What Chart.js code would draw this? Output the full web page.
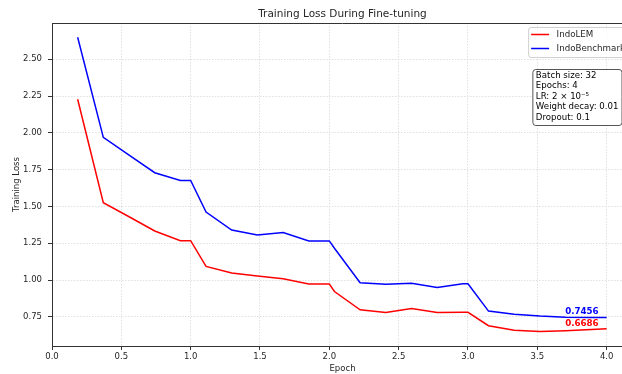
<!DOCTYPE html>
<html>
<head>
<meta charset="utf-8">
<script src="https://cdn.jsdelivr.net/npm/chart.js@4"></script>
<style>
  html, body { margin: 0; padding: 0; overflow: hidden; background: #fff; width: 622px; height: 374px; }
  canvas { display: block; }
</style>
</head>
<body>
<canvas id="lossChart" width="660" height="374"></canvas>
<script>
// logged training steps, expressed in epochs
const epochs = [0.185, 0.370, 0.556, 0.741, 0.926, 1.0, 1.111, 1.296, 1.481, 1.667, 1.852, 2.0, 2.037,
  2.222, 2.407, 2.593, 2.778, 2.963, 3.0, 3.148, 3.333, 3.519, 3.704, 3.889, 4.0];
const indoLemLoss = [2.228, 1.525, 1.43, 1.333, 1.267, 1.267, 1.093, 1.048, 1.027, 1.009, 0.973, 0.973, 0.922,
  0.798, 0.779, 0.806, 0.779, 0.781, 0.781, 0.690, 0.659, 0.650, 0.656, 0.664, 0.6686];
const indoBenchLoss = [2.649, 1.969, 1.848, 1.729, 1.677, 1.677, 1.462, 1.340, 1.306, 1.323, 1.266, 1.266, 1.216,
  0.982, 0.972, 0.978, 0.950, 0.975, 0.975, 0.789, 0.768, 0.756, 0.748, 0.745, 0.7456];
const seriesNames = ["IndoLEM", "IndoBenchmark"];
const seriesColors = ["red", "blue"];
const xTicks = [0.0, 0.5, 1.0, 1.5, 2.0, 2.5, 3.0, 3.5, 4.0];
const yTicks = [0.75, 1.0, 1.25, 1.5, 1.75, 2.0, 2.25, 2.5];
const hyperParams = ["Batch size: 32", "Epochs: 4", "LR: 2 × 10⁻⁵", "Weight decay: 0.01", "Dropout: 0.1"];

const FONT = "'DejaVu Sans', sans-serif";
const TEXT = "#262626";

const toPoints = (ys) => epochs.map((e, i) => ({ x: e, y: ys[i] }));

// top spine, legend, hyper-parameter box and final-value labels
const overlay = {
  id: "overlay",
  afterDatasetsDraw(chart) {
    const { ctx, scales: { x, y } } = chart;
    ctx.save();
    ctx.font = "bold 8.7px " + FONT;
    ctx.textAlign = "right";
    ctx.textBaseline = "alphabetic";
    chart.data.datasets.forEach((ds) => {
      const last = ds.data[ds.data.length - 1];
      ctx.fillStyle = ds.borderColor;
      ctx.fillText(last.y.toFixed(4), x.getPixelForValue(last.x) - 8, y.getPixelForValue(last.y) - 3);
    });
    ctx.restore();
  },
  afterDraw(chart) {
    const { ctx, chartArea: a } = chart;
    ctx.save();
    // top spine
    ctx.strokeStyle = "#333";
    ctx.lineWidth = 1;
    ctx.beginPath();
    ctx.moveTo(a.left, a.top + 0.5);
    ctx.lineTo(a.right, a.top + 0.5);
    ctx.stroke();

    // legend
    ctx.font = "8.7px " + FONT;
    const maxW = Math.max(...seriesNames.map((n) => ctx.measureText(n).width));
    const lw = 3 + 18 + 7.5 + maxW + 4;
    const lx = a.right - 4 - lw;
    const ly = a.top + 4;
    ctx.fillStyle = "rgba(255,255,255,0.8)";
    ctx.strokeStyle = "#d0d0d0";
    ctx.beginPath();
    ctx.roundRect(lx + 0.5, ly + 0.5, lw, 30, 2.5);
    ctx.fill();
    ctx.stroke();
    chart.data.datasets.forEach((ds, i) => {
      const ry = ly + 7.5 + i * 14;
      ctx.strokeStyle = ds.borderColor;
      ctx.lineWidth = 1.5;
      ctx.beginPath();
      ctx.moveTo(lx + 3, ry);
      ctx.lineTo(lx + 21, ry);
      ctx.stroke();
      ctx.fillStyle = TEXT;
      ctx.textAlign = "left";
      ctx.textBaseline = "middle";
      ctx.fillText(ds.label, lx + 28.5, ry);
    });

    // hyper-parameter box
    ctx.font = "8.6px " + FONT;
    const bw = Math.max(...hyperParams.map((t) => ctx.measureText(t).width)) + 6.5;
    const bx = a.right - 11.5 - bw;
    const by = a.top + 46;
    ctx.fillStyle = "#fff";
    ctx.strokeStyle = "#555";
    ctx.lineWidth = 1;
    ctx.beginPath();
    ctx.roundRect(bx + 0.5, by + 0.5, bw, 56, 3);
    ctx.fill();
    ctx.stroke();
    ctx.fillStyle = "#000";
    ctx.textAlign = "left";
    ctx.textBaseline = "middle";
    hyperParams.forEach((t, i) => ctx.fillText(t, bx + 3.5, by + 6.5 + i * 10.5));
    ctx.restore();
  },
};

new Chart(document.getElementById("lossChart"), {
  type: "line",
  data: {
    datasets: [
      { label: seriesNames[0], data: toPoints(indoLemLoss), borderColor: seriesColors[0] },
      { label: seriesNames[1], data: toPoints(indoBenchLoss), borderColor: seriesColors[1] },
    ],
  },
  options: {
    responsive: false,
    animation: false,
    devicePixelRatio: 1,
    layout: { padding: { left: 12, right: 27, top: 0, bottom: 0 } },
    elements: {
      line: { borderWidth: 1.5, tension: 0, fill: false },
      point: { radius: 0 },
    },
    plugins: {
      legend: { display: false },
      tooltip: { enabled: false },
      title: {
        display: true,
        fullSize: false,
        text: "Training Loss During Fine-tuning",
        color: TEXT,
        font: { family: FONT, size: 10.5, weight: "normal", lineHeight: 1.2 },
        padding: { top: 7.7, bottom: 2.7 },
      },
    },
    scales: {
      x: {
        type: "linear",
        min: 0,
        max: 4.19,
        afterBuildTicks: (s) => { s.ticks = xTicks.map((v) => ({ value: v })); },
        afterFit: (s) => { s.height = 28; },
        ticks: {
          color: TEXT,
          padding: 1.5,
          maxRotation: 0,
          font: { family: FONT, size: 8.5 },
          callback: (v) => Number(v).toFixed(1),
        },
        grid: { color: "#d8d8d8", lineWidth: 0.8, tickColor: "#333", tickLength: 4, tickWidth: 1 },
        border: { color: "#333", width: 1, dash: [1.5, 1.5] },
        title: {
          display: true,
          text: "Epoch",
          color: TEXT,
          font: { family: FONT, size: 8.5 },
          padding: { top: 0, bottom: 0 },
        },
      },
      y: {
        type: "linear",
        min: 0.552,
        max: 2.746,
        afterBuildTicks: (s) => { s.ticks = yTicks.map((v) => ({ value: v })); },
        afterFit: (s) => { s.width = 40; },
        ticks: {
          color: TEXT,
          padding: 6,
          font: { family: FONT, size: 8.5 },
          callback: (v) => Number(v).toFixed(2),
        },
        grid: { color: "#d8d8d8", lineWidth: 0.8, tickColor: "#333", tickLength: 4, tickWidth: 1 },
        border: { color: "#333", width: 1, dash: [1.5, 1.5] },
        title: {
          display: true,
          text: "Training Loss",
          color: TEXT,
          font: { family: FONT, size: 8.5 },
          padding: { top: 0, bottom: 0 },
        },
      },
    },
  },
  plugins: [overlay],
});
</script>
</body>
</html>
